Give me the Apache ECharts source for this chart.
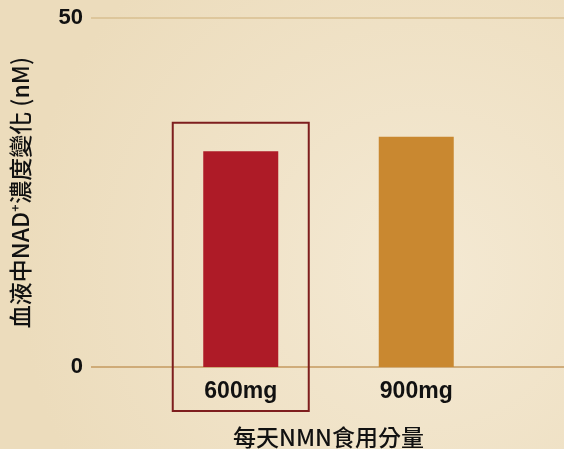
<!DOCTYPE html>
<html>
<head>
<meta charset="utf-8">
<script src="https://cdn.jsdelivr.net/npm/echarts@6/dist/echarts.min.js"></script>
<style>
html,body{margin:0;padding:0;background:#efe1c4;}
#c{width:564px;height:449px;}
</style>
</head>
<body>
<div id="c"></div>
<script>
var categories = ['600mg', '900mg'];
var values = [30.9, 33.0];
var barColors = ['#ae1b27', '#c98830'];
var yTicks = [0, 50];
var highlightIndex = 0;

var chart = echarts.init(document.getElementById('c'), null, {renderer: 'canvas'});
var font = '"Liberation Sans", Arial, "Noto Sans CJK TC", sans-serif';
var cjk = '"Noto Sans CJK TC", sans-serif';
var option = {
  backgroundColor: {
    type: 'radial', x: 0.75, y: 0.6, r: 0.9,
    colorStops: [{offset: 0, color: '#f4e9d3'}, {offset: 1, color: '#ecdcbc'}]
  },
  animation: false,
  grid: [
    {left: 91, right: 0, top: 18, bottom: 82, outerBoundsMode: 'none', containLabel: false},
    {left: 153, right: 60, top: 18, bottom: 82, outerBoundsMode: 'none', containLabel: false}
  ],
  xAxis: [
    {type: 'value', gridIndex: 0, show: false, min: 0, max: 1},
    {
      type: 'category', gridIndex: 1, data: categories,
      axisLine: {show: false}, axisTick: {show: false},
      axisLabel: {color: '#111', fontSize: 23, fontWeight: 'bold', fontFamily: font, margin: 13},
      name: '每天NMN食用分量', nameLocation: 'middle', nameGap: 59,
      nameTextStyle: {color: '#111', fontSize: 23, fontWeight: 500, fontFamily: cjk}
    }
  ],
  yAxis: [
    {
      type: 'value', gridIndex: 0, min: yTicks[0], max: yTicks[1], interval: 50,
      axisLine: {show: false}, axisTick: {show: false},
      axisLabel: {color: '#111', fontSize: 22, fontWeight: 'bold', fontFamily: font, margin: 8},
      splitLine: {lineStyle: {color: ['#c49a5f', '#d9bf90'], width: 1.5}},
      name: '血液中NAD⁺濃度變化 (nM)', nameLocation: 'middle', nameRotate: 90, nameGap: 59,
      nameTextStyle: {color: '#111', fontSize: 23, fontWeight: 500, fontFamily: cjk}
    },
    {type: 'value', gridIndex: 1, min: yTicks[0], max: yTicks[1], show: false}
  ],
  series: [{
    type: 'bar', xAxisIndex: 1, yAxisIndex: 1, barWidth: 75,
    data: values.map(function (v, i) { return {value: v, itemStyle: {color: barColors[i]}}; })
  }]
};
chart.setOption(option);

var basePt = chart.convertToPixel({xAxisIndex: 1, yAxisIndex: 1}, [highlightIndex, 0]);
var topPt = chart.convertToPixel({xAxisIndex: 1, yAxisIndex: 1}, [highlightIndex, 35.0]);
chart.setOption({
  graphic: [{
    type: 'rect',
    shape: {x: basePt[0] - 68, y: topPt[1], width: 136, height: basePt[1] + 44 - topPt[1]},
    style: {fill: 'none', stroke: '#7e1e1e', lineWidth: 2},
    z: 10
  }]
});
</script>
</body>
</html>
